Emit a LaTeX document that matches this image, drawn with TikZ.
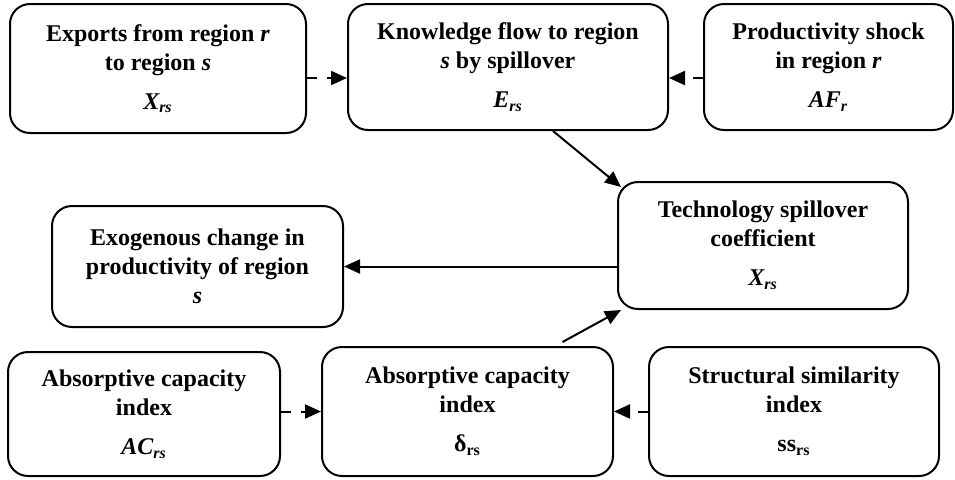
\documentclass[tikz,border=0pt]{standalone}
\usepackage{fontspec}
\setmainfont{Liberation Serif}
\usepackage{tikz}
\usetikzlibrary{arrows.meta,calc}

\newcommand{\mv}[2]{{\bfseries\itshape #1\textsubscript{#2}}}

\begin{document}
\begin{tikzpicture}[x=0.5pt,y=-0.5pt]
  % Styles
  \tikzset{
    box/.style={draw, rounded corners=10pt, line width=1pt, align=center, inner sep=0pt,
      font=\fontsize{12}{14.5}\selectfont\bfseries},
    solidline/.style={-{Triangle[length=8pt,width=7pt]}, line width=1pt},
    dashline/.style={-{Triangle[length=8pt,width=7pt]}, line width=1pt, dash pattern=on 5pt off 5pt},
  }
  \useasboundingbox (0,0) rectangle (955,479);

  % Row 1
  \node[box, minimum width=148pt, minimum height=64.5pt] (exports) at (158,68.5)
    {Exports from region \textit{r}\\to region \textit{s}\\[5pt]\mv{X}{rs}};
  \node[box, minimum width=160pt, minimum height=63pt] (knowledge) at (508,67)
    {Knowledge flow to region\\\textit{s} by spillover\\[5pt]\mv{E}{rs}};
  \node[box, minimum width=124.5pt, minimum height=63pt] (shock) at (828.5,67)
    {Productivity shock\\in region \textit{r}\\[5pt]\mv{AF}{r}};

  % Row 2
  \node[box, minimum width=145pt, minimum height=63.5pt] (tech) at (763,245.5)
    {Technology spillover\\coefficient\\[5pt]\mv{X}{rs}};
  \node[box, minimum width=145.5pt, minimum height=60.5pt] (exo) at (197.5,266.5)
    {Exogenous change in\\productivity of region\\\textit{s}};

  % Row 3
  \node[box, minimum width=136pt, minimum height=62pt] (absorbA) at (144,414)
    {Absorptive capacity\\index\\[5pt]\mv{AC}{rs}};
  \node[box, minimum width=145.5pt, minimum height=64.5pt] (absorbB) at (467.5,411.5)
    {Absorptive capacity\\index\\[5pt]δ\textsubscript{rs}};
  \node[box, minimum width=145pt, minimum height=64.5pt] (similar) at (794,411.5)
    {Structural similarity\\index\\[5pt]ss\textsubscript{rs}};

  % Edges
  \coordinate (exportsOut) at ([yshift=-4.75pt]exports.east);
  \coordinate (shockOut) at ([yshift=-5.5pt]shock.west);
  \draw[dashline] (exportsOut) -- (exportsOut -| knowledge.west);
  \draw[dashline] (shockOut) -- (shockOut -| knowledge.east);
  \draw[solidline] ([xshift=22.5pt]knowledge.south) -- ([xshift=2pt,yshift=-3pt]tech.north west);
  \draw[solidline] (tech.west |- exo.east) -- (exo.east);
  \draw[solidline] ([xshift=47.5pt,yshift=2pt]absorbB.north) -- ([xshift=2pt]tech.south west);
  \draw[dashline] (absorbA.east |- absorbB.west) -- (absorbB.west);
  \draw[dashline] (similar.west) -- (absorbB.east);
\end{tikzpicture}
\end{document}
